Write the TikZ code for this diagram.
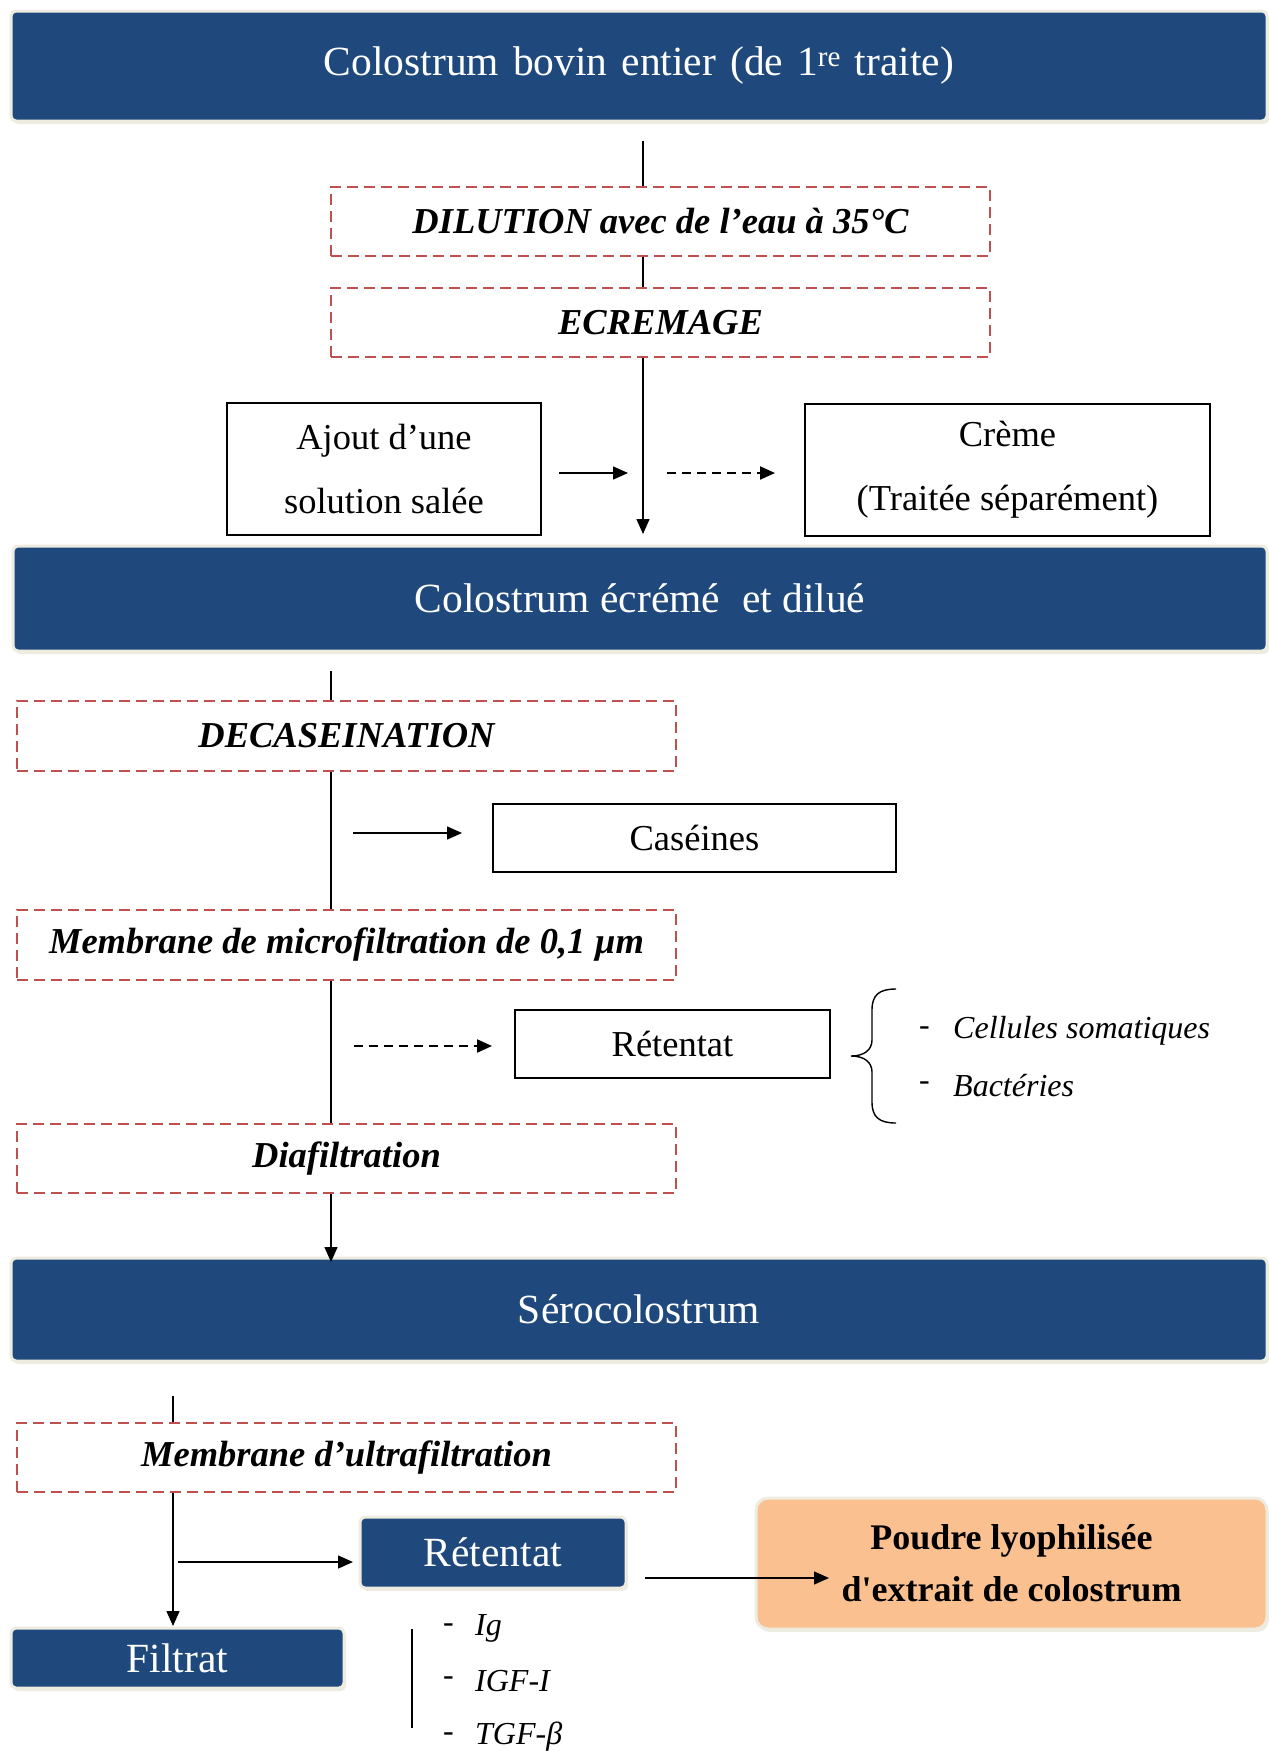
\documentclass[tikz,border=0pt]{standalone}
\usepackage{fontspec}
\setmainfont{Liberation Serif}
% same face without TeX ligature mapping, for a straight apostrophe
\newfontfamily\rawserif{Liberation Serif}
\usetikzlibrary{arrows.meta,shadows}
\definecolor{navy}{HTML}{1F497D}
\definecolor{halo}{HTML}{EEECE1}
\definecolor{stepred}{HTML}{C0504D}
\definecolor{peach}{HTML}{FAC090}
\begin{document}
\begin{tikzpicture}[x=1pt,y=-1pt,
  bluebox/.style={fill=navy, text=white, draw=halo, line width=3pt,
    rounded corners=5pt, inner sep=0pt,
    drop shadow={fill=halo, opacity=1, shadow xshift=2pt, shadow yshift=-3pt},
    font=\fontsize{41.5}{48}\selectfont},
  stepbox/.style={draw=stepred, dash pattern=on 11pt off 6pt, line width=2.6pt,
    minimum width=659pt, minimum height=69pt, inner sep=0pt,
    font=\fontsize{36.5}{44}\selectfont\bfseries\itshape},
  plainbox/.style={draw=black, line width=1.6pt, inner sep=0pt, align=center,
    font=\fontsize{36.5}{64}\selectfont},
  flow/.style={line width=1.4pt},
  tip/.style={-{Triangle[length=15pt,width=13pt]}},
  dashflow/.style={line width=2.2pt, dash pattern=on 9pt off 6pt},
  item/.style={font=\fontsize{32}{38}\selectfont\itshape, anchor=west, inner sep=0pt},
  dashmark/.style={font=\fontsize{32}{38}\selectfont, anchor=west, inner sep=0pt},
]
\useasboundingbox (0,0) rectangle (1269,1751);

% ---------- main stages ----------
\node[bluebox, minimum width=1256pt, minimum height=110pt] (top) at (639,66)
  {\spaceskip=14pt Colostrum bovin entier (de 1\textsuperscript{re} traite)};
\node[stepbox] (dil) at (660.5,221.5) {DILUTION avec de l’eau à 35°C};
\node[stepbox] (ecr) at (660.5,322.5) {ECREMAGE};
\node[plainbox, minimum width=314pt, minimum height=132pt] (ajout) at (384,469)
  {Ajout d’une\\solution salée};
\node[plainbox, minimum width=405pt, minimum height=132pt] (creme) at (1007.5,470)
  {Crème\\(Traitée séparément)};
\node[bluebox, minimum width=1254pt, minimum height=105pt] (col2) at (640,598.5)
  {Colostrum écrémé\; et dilué};

\node[stepbox, minimum height=70pt] (deca) at (346.5,736) {DECASEINATION};
\node[plainbox, minimum width=403pt, minimum height=68pt] (cas) at (694.5,838) {Caséines};
\node[stepbox, minimum height=70pt] (micro) at (346.5,945) {Membrane de microfiltration de 0,1 µm};
\node[plainbox, minimum width=315pt, minimum height=68pt] (ret1) at (672.5,1044) {Rétentat};
\node[stepbox] (dia) at (346.5,1158.5) {Diafiltration};

\node[bluebox, minimum width=1256pt, minimum height=103pt] (sero) at (639,1309.5) {Sérocolostrum};
\node[stepbox] (ultra) at (346.5,1457.5) {Membrane d’ultrafiltration};
\node[bluebox, minimum width=266pt, minimum height=71pt] (ret2) at (493,1552.5) {Rétentat};
\node[bluebox, fill=peach, text=black, rounded corners=12pt, align=center,
  minimum width=511pt, minimum height=131pt,
  font=\fontsize{36}{52}\selectfont\bfseries] (poudre) at (1011.5,1563.5)
  {Poudre lyophilisée\\d{\rawserif\bfseries '}extrait de colostrum};
\node[bluebox, minimum width=333pt, minimum height=60pt] (filtrat) at (177.5,1658) {Filtrat};

% ---------- composition lists ----------
\node[dashmark] (m1) at (919,1031) {-};
\node[item] (l1) at (953,1031) {Cellules somatiques};
\node[dashmark] (m2) at (919,1086) {-};
\node[item] (l2) at (953,1086) {Bactéries};

\node[dashmark] (m3) at (443,1628) {-};
\node[item] (l3) at (475,1628) {Ig};
\node[dashmark] (m4) at (443,1681) {-};
\node[item] (l4) at (475,1681) {IGF-I};
\node[dashmark] (m5) at (443,1737) {-};
\node[item] (l5) at (475,1737) {TGF-β};

% ---------- connectors: skimming branch ----------
\coordinate (c1) at (643,141);
\coordinate (c2) at (643,534);
\draw[flow] (c1) -- (c1 |- dil.north);
\draw[flow] (c1 |- dil.south) -- (c1 |- ecr.north);
\draw[flow,tip] (c1 |- ecr.south) -- (c2);
\coordinate (s1) at (559,473);
\coordinate (s2) at (628,473);
\coordinate (s3) at (667,473);
\coordinate (s4) at (775,473);
\draw[flow,tip] (s1) -- (s2);
\draw[dashflow,tip] (s3) -- (s4);

% ---------- connectors: decaseination / microfiltration ----------
\coordinate (d0) at (331,671);
\coordinate (d1) at (331,1262);
\draw[flow] (d0) -- (d0 |- deca.north);
\draw[flow] (d0 |- deca.south) -- (d0 |- micro.north);
\draw[flow] (d0 |- micro.south) -- (d0 |- dia.north);
\draw[flow,tip] (d0 |- dia.south) -- (d1);
\coordinate (k1) at (353,833);
\coordinate (k2) at (462,833);
\draw[flow,tip] (k1) -- (k2);
\coordinate (r1) at (354,1046);
\coordinate (r2) at (492,1046);
\draw[dashflow,tip] (r1) -- (r2);

% curly brace grouping the retained fractions
\draw[line width=1.4pt] (896,989) .. controls (879,989) and (872,995) .. (872,1010)
  -- (872,1040) .. controls (872,1050) and (864,1056) .. (851,1056)
  .. controls (864,1056) and (872,1062) .. (872,1072)
  -- (872,1102) .. controls (872,1117) and (879,1123) .. (896,1123);

% ---------- connectors: ultrafiltration ----------
\coordinate (u0) at (173,1396);
\coordinate (u1) at (173,1626);
\draw[flow] (u0) -- (u0 |- ultra.north);
\draw[flow,tip] (u0 |- ultra.south) -- (u1);
\coordinate (v1) at (178,1562);
\coordinate (v2) at (353,1562);
\draw[flow,tip] (v1) -- (v2);
\coordinate (w1) at (645,1578);
\coordinate (w2) at (829,1578);
\draw[flow,tip] (w1) -- (w2);
\coordinate (b1) at (412,1629);
\coordinate (b2) at (412,1728);
\draw[flow] (b1) -- (b2);

\end{tikzpicture}
\end{document}
